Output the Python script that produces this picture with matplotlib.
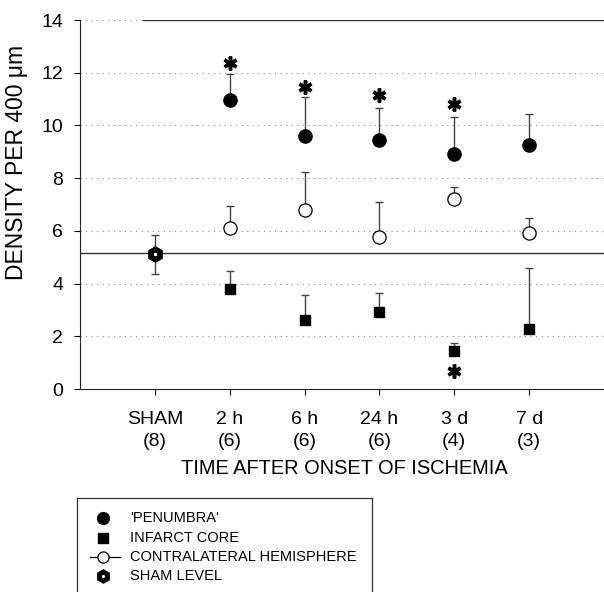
import matplotlib
matplotlib.use("Agg")
import matplotlib.pyplot as plt
import numpy as np

plt.rcParams["font.family"] = ["Liberation Sans", "DejaVu Sans"]

# ── data ────────────────────────────────────────────────────────────────────
groups     = ["SHAM", "2 h", "6 h", "24 h", "3 d", "7 d"]
group_n    = ["(8)", "(6)", "(6)", "(6)", "(4)", "(3)"]

time_pos   = [2, 3, 4, 5, 6]                       # 2 h .. 7 d
penumbra   = [10.96, 9.61, 9.45, 8.93, 9.24]
penumbra_e = [0.99, 1.45, 1.22, 1.40, 1.19]
core       = [3.78, 2.62, 2.93, 1.43, 2.26]
core_e     = [0.71, 0.96, 0.70, 0.30, 2.32]
contra     = [6.12, 6.79, 5.78, 7.19, 5.93]
contra_e   = [0.83, 1.45, 1.32, 0.46, 0.57]

sham_pos   = 1
sham_mean  = 5.11
sham_e     = 0.74
sham_level = 5.15

star_x     = [2, 3, 4, 5, 5]
star_y     = [12.37, 11.46, 11.15, 10.81, 0.69]

legend_labels = ["'PENUMBRA'", "INFARCT CORE", "CONTRALATERAL HEMISPHERE", "SHAM LEVEL"]

fig = plt.figure(figsize=(6.04, 5.92), dpi=100)
ax = fig.add_axes([80 / 604, 1 - 389 / 592, 524 / 604, 369 / 592])

# grid + reference lines
for gy in range(2, 15, 2):
    ax.axhline(gy, color="#888888", linestyle=(0, (1, 4)), linewidth=0.8, zorder=0)
ax.plot([0.84, 7], [14, 14], color="#333333", linewidth=1.0, zorder=1)
ax.axhline(sham_level, color="#333333", linewidth=1.0, zorder=1)

ekw = dict(fmt="none", ecolor="#444444", elinewidth=1.0, capsize=3, capthick=1.0, zorder=2)

# upward-only error bars
ax.errorbar(time_pos, penumbra, yerr=[np.zeros(5), penumbra_e], **ekw)
ax.errorbar(time_pos, core, yerr=[np.zeros(5), core_e], **ekw)
ax.errorbar(time_pos, contra, yerr=[np.zeros(5), contra_e], **ekw)
ax.errorbar([sham_pos], [sham_mean], yerr=[[sham_e], [sham_e]], **ekw)

ax.plot(time_pos, penumbra, "o", color="black", markersize=9.5, linestyle="none", zorder=3)
ax.plot(time_pos, core, "s", color="black", markersize=7.5, linestyle="none", zorder=3)
ax.plot(time_pos, contra, "o", markerfacecolor="white", markeredgecolor="black",
        markeredgewidth=0.9, markersize=9.5, linestyle="none", zorder=3)
ax.plot([sham_pos], [sham_mean], "h", color="black", markersize=11, linestyle="none", zorder=3)
ax.plot([sham_pos], [sham_mean], "o", color="white", markersize=1.5, linestyle="none", zorder=4)

# significance asterisks
ax.plot(star_x, star_y, marker=(6, 2, 0), color="black", markersize=10,
        markeredgewidth=2.5, linestyle="none", zorder=4)

ax.set_xlim(0, 7)
ax.set_ylim(0, 14)
ax.set_yticks(range(0, 15, 2))
ax.set_xticks(range(1, 7))
ax.set_xticklabels([f"{g}\n{n}" for g, n in zip(groups, group_n)], linespacing=1.38)
ax.tick_params(axis="y", labelsize=14, length=4, pad=8, direction="out")
ax.tick_params(axis="x", labelsize=14, length=4, pad=12, direction="out")
for s in ["top", "right"]:
    ax.spines[s].set_visible(False)
ax.spines["left"].set_color("#222222")
ax.spines["bottom"].set_color("#222222")

fig.text(17 / 604, 1 - 162 / 592, "DENSITY PER 400 μm", fontsize=16.5,
         rotation=90, ha="center", va="center")
fig.text(344 / 604, 1 - 468 / 592, "TIME AFTER ONSET OF ISCHEMIA",
         fontsize=14.4, ha="center", va="center")

# legend box (open at bottom, as in the reference), laid out in pixel units
lax = fig.add_axes([77 / 604, 0, (372 - 77) / 604, (592 - 498) / 592])
lax.set_xlim(0, 295)
lax.set_ylim(0, 94)
lax.set_xticks([])
lax.set_yticks([])
lax.spines["bottom"].set_visible(False)
for s in ["top", "left", "right"]:
    lax.spines[s].set_color("#333333")
    lax.spines[s].set_linewidth(0.9)

rows = [74, 54, 35, 16]
mx, tx = 26, 53
lax.plot([mx], [rows[0]], "o", color="black", markersize=8.5)
lax.plot([mx], [rows[1]], "s", color="black", markersize=7)
lax.plot([mx - 13, mx + 17], [rows[2], rows[2]], color="black", linewidth=0.9)
lax.plot([mx], [rows[2]], "o", markerfacecolor="white", markeredgecolor="black",
         markeredgewidth=0.9, markersize=8)
lax.plot([mx], [rows[3]], "h", color="black", markersize=9.5)
lax.plot([mx], [rows[3]], "o", color="white", markersize=1.2)
for ry, lab in zip(rows, legend_labels):
    lax.text(tx, ry, lab, fontsize=10.5, ha="left", va="center")

fig.savefig("out.png", dpi=100)
